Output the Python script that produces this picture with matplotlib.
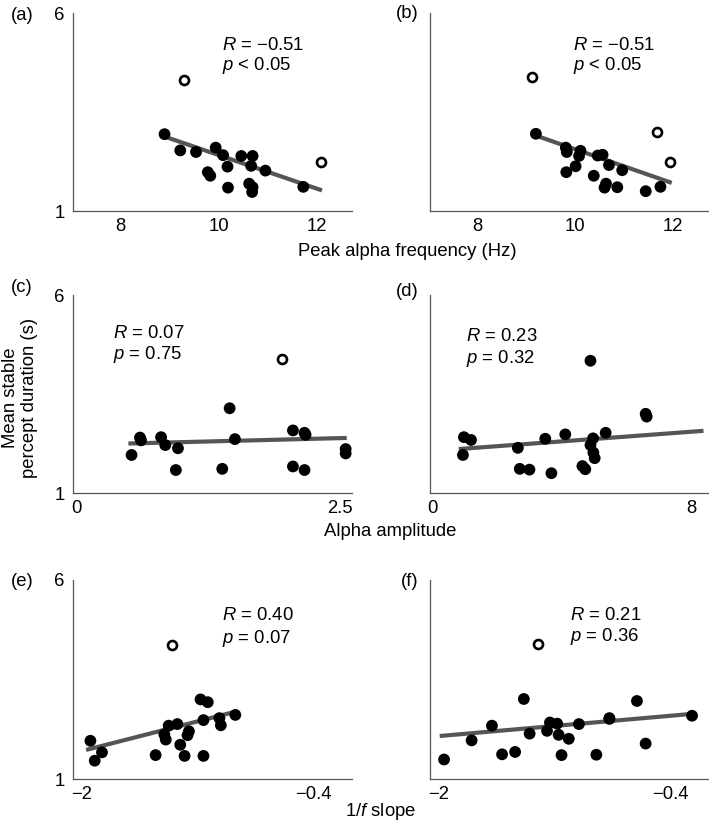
import matplotlib
matplotlib.use("Agg")
import matplotlib.pyplot as plt

plt.rcParams["font.family"] = ["Liberation Sans", "DejaVu Sans"]
plt.rcParams["mathtext.fontset"] = "custom"
plt.rcParams["mathtext.rm"] = "Liberation Sans"
plt.rcParams["mathtext.it"] = "Liberation Sans:italic"
plt.rcParams["axes.unicode_minus"] = True

FS = 13.3

# (a) peak alpha frequency vs mean stable percept duration
a_x = [8.90, 9.22, 9.54, 9.94, 10.09, 10.46, 10.69, 10.18, 10.66, 10.95,
       9.78, 9.83, 10.19, 10.62, 10.69, 10.68, 11.72]
a_y = [2.94, 2.53, 2.49, 2.60, 2.41, 2.39, 2.39, 2.12, 2.14, 2.02,
       1.98, 1.89, 1.59, 1.69, 1.60, 1.48, 1.61]
a_out_x = [9.29, 12.08]
a_out_y = [4.31, 2.25]
a_fit_x = [8.90, 12.10]
a_fit_y = [2.88, 1.52]

# (b)
b_x = [9.20, 9.81, 9.83, 10.11, 10.08, 10.46, 10.56, 10.69, 10.96,
       9.82, 10.01, 10.38, 10.63, 10.60, 10.86, 11.44, 11.74]
b_y = [2.95, 2.60, 2.49, 2.52, 2.39, 2.40, 2.42, 2.16, 2.03,
       1.98, 2.13, 1.89, 1.69, 1.59, 1.60, 1.50, 1.61]
b_out_x = [9.13, 11.68, 11.94]
b_out_y = [4.38, 2.99, 2.25]
b_fit_x = [9.21, 11.97]
b_fit_y = [2.90, 1.71]

# (c) alpha amplitude
c_x = [0.52, 0.60, 0.61, 0.80, 0.84, 0.96, 0.94, 1.38, 1.45, 1.50,
       2.05, 2.16, 2.17, 2.05, 2.16, 2.55, 2.55]
c_y = [1.96, 2.40, 2.33, 2.41, 2.21, 2.13, 1.58, 1.61, 3.14, 2.36,
       2.58, 2.52, 2.47, 1.67, 1.58, 2.11, 2.00]
c_out_x = [1.95]
c_out_y = [4.38]
c_fit_x = [0.49, 2.56]
c_fit_y = [2.25, 2.39]

# (d)
d_x = [0.94, 0.97, 1.19, 2.64, 2.70, 3.00, 3.49, 3.68, 4.11, 4.64,
       4.73, 4.89, 4.97, 4.89, 4.98, 5.02, 5.36, 6.60, 6.63]
d_y = [1.96, 2.41, 2.34, 2.14, 1.61, 1.59, 2.37, 1.50, 2.48, 1.68,
       1.60, 4.34, 2.38, 2.21, 2.02, 1.88, 2.52, 3.00, 2.93]
d_out_x = []
d_out_y = []
d_fit_x = [0.81, 8.39]
d_fit_y = [2.11, 2.57]

# (e) 1/f slope
e_x = [-1.94, -1.91, -1.86, -1.49, -1.43, -1.42, -1.40, -1.34, -1.32, -1.29,
       -1.27, -1.26, -1.18, -1.13, -1.16, -1.16, -1.05, -1.04, -0.94]
e_y = [1.96, 1.46, 1.67, 1.60, 2.12, 1.99, 2.34, 2.38, 1.86, 1.58,
       2.10, 2.20, 3.00, 2.93, 2.48, 1.58, 2.53, 2.35, 2.61]
e_out_x = [-1.38]
e_out_y = [4.37]
e_fit_x = [-1.97, -0.93]
e_fit_y = [1.73, 2.70]

# (f)
f_x = [-1.96, -1.77, -1.63, -1.56, -1.47, -1.41, -1.37, -1.25, -1.23, -1.18,
       -1.17, -1.10, -1.15, -1.03, -0.91, -0.82, -0.82, -0.63, -0.57, -0.25]
f_y = [1.49, 1.97, 2.34, 1.62, 1.68, 3.01, 2.14, 2.21, 2.42, 2.39,
       2.11, 2.01, 1.60, 2.38, 1.61, 2.51, 2.53, 2.96, 1.89, 2.59]
f_out_x = [-1.31]
f_out_y = [4.39]
f_fit_x = [-1.99, -0.27]
f_fit_y = [2.08, 2.63]

stats = {
    "a": ("$R$ = \u22120.51", "$p$ < 0.05"),
    "b": ("$R$ = \u22120.51", "$p$ < 0.05"),
    "c": ("$R$ = 0.07", "$p$ = 0.75"),
    "d": ("$R$ = 0.23", "$p$ = 0.32"),
    "e": ("$R$ = 0.40", "$p$ = 0.07"),
    "f": ("$R$ = 0.21", "$p$ = 0.36"),
}

W, H = 709, 827
fig = plt.figure(figsize=(W / 100, H / 100), dpi=100)


def px_axes(left, top, right, bottom):
    return fig.add_axes([left / W, 1 - bottom / H, (right - left) / W, (bottom - top) / H])


panels = [
    # key, box, data, xlim, xticks, xticklabels, text pos
    ("a", (73, 13, 352, 211), (a_x, a_y, a_out_x, a_out_y, a_fit_x, a_fit_y),
     (7.04, 12.71), [8, 10, 12], ["8", "10", "12"], (0.533, 0.835, 0.737)),
    ("b", (430, 13, 708, 211), (b_x, b_y, b_out_x, b_out_y, b_fit_x, b_fit_y),
     (7.04, 12.71), [8, 10, 12], ["8", "10", "12"], (0.515, 0.835, 0.737)),
    ("c", (73, 295, 352, 493), (c_x, c_y, c_out_x, c_out_y, c_fit_x, c_fit_y),
     (-0.035, 2.61), [0, 2.5], ["0", "2.5"], (0.142, 0.807, 0.697)),
    ("d", (430, 295, 708, 493), (d_x, d_y, d_out_x, d_out_y, d_fit_x, d_fit_y),
     (-0.08, 8.53), [0, 8], ["0", "8"], (0.129, 0.789, 0.680)),
    ("e", (73, 580, 352, 779), (e_x, e_y, e_out_x, e_out_y, e_fit_x, e_fit_y),
     (-2.06, -0.135), [-2, -0.4], ["\u22122", "\u22120.4"], (0.533, 0.824, 0.707)),
    ("f", (430, 580, 708, 779), (f_x, f_y, f_out_x, f_out_y, f_fit_x, f_fit_y),
     (-2.057, -0.14), [-2, -0.4], ["\u22122", "\u22120.4"], (0.504, 0.824, 0.715)),
]

label_pos = {"a": (22, 15), "b": (407, 13), "c": (22, 287), "d": (407, 291),
             "e": (22, 581), "f": (410, 582)}

for key, box, (xs, ys, ox, oy, fx, fy), xlim, xt, xtl, tpos in panels:
    ax = px_axes(*box)
    ax.plot(fx, fy, color="#555555", lw=3.0, solid_capstyle="butt", zorder=2)
    ax.scatter(xs, ys, s=72, color="black", edgecolors="none", zorder=3)
    if ox:
        ax.scatter(ox, oy, s=42, facecolors="white", edgecolors="black",
                   linewidths=1.9, zorder=3)
    ax.set_xlim(*xlim)
    ax.set_ylim(1, 6)
    ax.set_xticks(xt, xtl)
    if box[0] < 200:
        ax.set_yticks([1, 6], ["1", "6"])
    else:
        ax.set_yticks([])
    ax.tick_params(length=0, labelsize=FS, pad=6)
    ax.tick_params(axis="x", pad=5)
    for side in ("top", "right"):
        ax.spines[side].set_visible(False)
    for side in ("left", "bottom"):
        ax.spines[side].set_color("#555555")
        ax.spines[side].set_linewidth(0.9)
    ax.patch.set_alpha(0)
    tx, ty1, ty2 = tpos
    ax.text(tx, ty1, stats[key][0], transform=ax.transAxes, fontsize=FS, va="center")
    ax.text(tx, ty2, stats[key][1], transform=ax.transAxes, fontsize=FS, va="center")
    lx, ly = label_pos[key]
    fig.text(lx / W, 1 - ly / H, f"({key})", fontsize=FS, ha="center", va="center")

fig.text(407 / W, 1 - 252 / H, "Peak alpha frequency (Hz)", fontsize=FS, ha="center", va="center")
fig.text(390 / W, 1 - 532 / H, "Alpha amplitude", fontsize=FS, ha="center", va="center")
fig.text(381 / W, 1 - 812 / H, "1/$f$ slope", fontsize=FS, ha="center", va="center")
fig.text(20 / W, 1 - 398 / H, "Mean stable\npercept duration (s)", fontsize=FS,
         ha="center", va="center", rotation=90, linespacing=1.1)

fig.savefig("out.png", dpi=100)
